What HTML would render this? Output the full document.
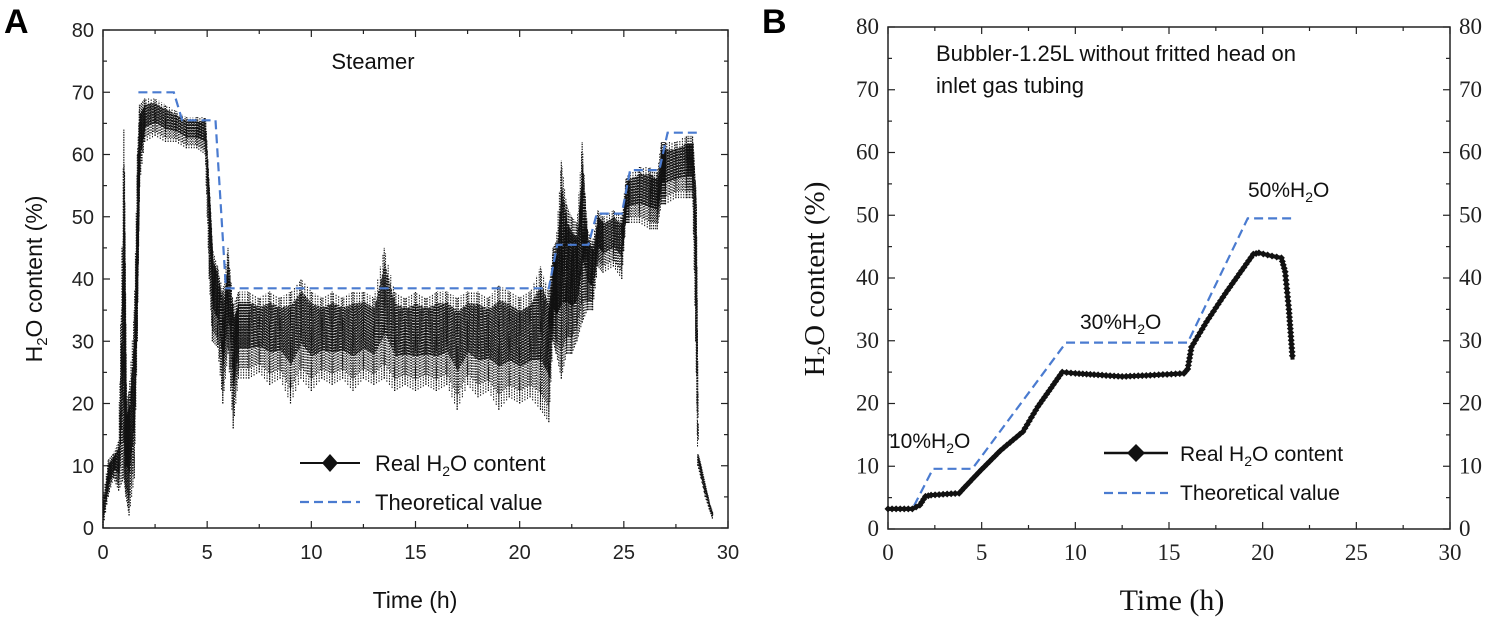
<!DOCTYPE html>
<html><head><meta charset="utf-8"><style>
html,body{margin:0;padding:0;background:#fff;}
svg{display:block;}
</style></head><body>
<svg id="chart" width="1500" height="617" viewBox="0 0 1500 617" xmlns="http://www.w3.org/2000/svg">
<text x="4" y="33" font-family="Liberation Sans, sans-serif" font-weight="bold" font-size="34">A</text>
<text x="762" y="33" font-family="Liberation Sans, sans-serif" font-weight="bold" font-size="34">B</text>
<g id="pa"></g>
<g id="pb"></g>
</svg>
<script>
// ---- Panel A data ----
const aTime = [0,0.25,0.5,0.75,1.0,1.1,1.25,1.5,1.65,1.75,2,2.5,3,3.5,4,4.5,4.9,5.1,5.25,5.5,5.75,6,6.25,6.5,7,7.5,8,8.5,9,9.5,10,10.5,11,11.5,12,12.5,13,13.5,14,14.5,15,15.5,16,16.5,17,17.5,18,18.5,19,19.5,20,20.5,21,21.4,21.6,21.75,22,22.25,22.5,22.75,23,23.25,23.5,23.75,24,24.5,24.9,25.1,25.25,25.75,26.25,26.6,26.8,27,27.5,28,28.3,28.45,28.55,28.7,28.9,29.1,29.25];
const aLow  = [0,5,8,6,8,5,2,8,30,55,62,63,62,62,61,61,60,40,30,29,20,28,16,24,24,25,23,24,20,24,22,24,23,24,22,24,23,24,22,23,22,23,22,23,19,23,21,22,19,21,20,21,19,17,30,28,24,28,28,30,33,35,35,42,41,42,40,49,49,49,48,48,52,52,53,53,53,30,10,8,5,3,1.5,0.3];
const aHigh = [5,11,12,14,64,20,22,35,60,68,69,69,68,67,66,66,66,55,45,42,38,45,36,38,38,37,38,37,38,40,38,37,38,37,38,38,37,45,38,37,38,37,38,38,37,38,38,37,39,38,37,38,42,38,45,46,59,52,50,49,62,48,46,51,50,51,50,56,57,58,58,57,62,62,62,63,63,55,12,10,7,4,2.5,1];
const aTheoT = [1.7,3.4,3.8,5.4,5.9,21.4,21.8,23.3,23.7,24.9,25.3,26.7,27.1,28.5];
const aTheoV = [70,70,65.5,65.5,38.5,38.5,45.5,45.5,50.5,50.5,57.5,57.5,63.5,63.5];
// ---- Panel B data ----
const bRealT = [0,1.3,1.7,2.0,2.3,3.8,4.2,5,6,7.2,8,9.3,10,11,12.5,14,15.8,16,16.2,17,18,19.5,19.8,20.5,21,21.2,21.4,21.6];
const bRealV = [3.2,3.2,3.8,5.2,5.4,5.7,7,9.5,12.5,15.5,19.5,25,24.8,24.6,24.3,24.5,24.8,25.5,29,33,37.5,43.8,44,43.5,43.2,41,35,27];
const bTheoT = [0,1.3,2.4,4.5,9.5,16,19.2,21.7];
const bTheoV = [3.2,3.2,9.6,9.6,29.7,29.7,49.5,49.5];
const xTicks = [0,5,10,15,20,25,30];
const yTicks = [0,10,20,30,40,50,60,70,80];

const NS='http://www.w3.org/2000/svg';
function mk(parent,tag,attrs,text){const e=document.createElementNS(NS,tag);for(const k in attrs)e.setAttribute(k,attrs[k]);if(text!==undefined)e.textContent=text;parent.appendChild(e);return e;}

function axes(g,L,R,T,B,font,fs,rightLabels){
  const sx=v=>L+(R-L)*v/30, sy=v=>B-(B-T)*v/80;
  const fr=mk(g,'rect',{x:L,y:T,width:R-L,height:B-T,fill:'none',stroke:'#222','stroke-width':1.5});
  
  
  for(let i=0;i<=12;i++){const v=i*2.5,x=sx(v),len=i%2===0?7:4;
    mk(g,'line',{x1:x,y1:B,x2:x,y2:B-len,stroke:'#222','stroke-width':1.2});
    mk(g,'line',{x1:x,y1:T,x2:x,y2:T+len,stroke:'#222','stroke-width':1.2});}
  for(let i=0;i<=16;i++){const v=i*5,y=sy(v),len=i%2===0?7:4;
    mk(g,'line',{x1:L,y1:y,x2:L+len,y2:y,stroke:'#222','stroke-width':1.2});
    mk(g,'line',{x1:R,y1:y,x2:R-len,y2:y,stroke:'#222','stroke-width':1.2});}
  xTicks.forEach(v=>{const t=mk(g,'text',{x:sx(v),y:B+31,'text-anchor':'middle','font-family':font,'font-size':fs,fill:'#222'},String(v));
    
    });
  yTicks.forEach(v=>{const t=mk(g,'text',{x:L-9,y:sy(v)+7,'text-anchor':'end','font-family':font,'font-size':fs,fill:'#222'},String(v));
    
    
    if(rightLabels){const t2=mk(g,'text',{x:R+9,y:sy(v)+7,'text-anchor':'start','font-family':font,'font-size':fs,fill:'#222'},String(v));
      
      }});
  return {sx,sy};
}
function path(pts){return pts.map((p,i)=>(i?'L':'M')+p[0].toFixed(1)+' '+p[1].toFixed(1)).join(' ');}

// ---- Panel A ----
(function(){
  const g=document.getElementById('pa');
  const sans='Liberation Sans, sans-serif';
  const {sx,sy}=axes(g,103,728,30,528,sans,20,false);
  const band=mk(g,'g',{});
  
  
  for(let i=0;i<aTime.length;i++){
    const x=sx(aTime[i]);
    const l=mk(band,'line',{x1:x,y1:sy(aLow[i]),x2:x,y2:sy(aHigh[i]),stroke:'#111','stroke-width':1.2,'stroke-dasharray':'1.5 1'});
    
    
    if(i<aTime.length-1){
      const n=8;
      for(let k=0;k<n;k++){const f=k/n,t=aTime[i]+(aTime[i+1]-aTime[i])*f;
        const lo=aLow[i]+(aLow[i+1]-aLow[i])*f, hi=aHigh[i]+(aHigh[i+1]-aHigh[i])*f;
        const lo2=lo+(hi-lo)*(k%2?0.12:0), hi2=hi-(hi-lo)*(k%2?0:0.15);
        mk(band,'line',{x1:sx(t),y1:sy(lo2),x2:sx(t),y2:sy(hi2),stroke:'#111','stroke-width':1,'stroke-dasharray':'1.5 1.2'});
        mk(band,'line',{x1:sx(t)+0.7,y1:sy(lo+(hi-lo)*0.35),x2:sx(t)+0.7,y2:sy(hi-(hi-lo)*0.12),stroke:'#111','stroke-width':1.1,'stroke-dasharray':'2 0.8'});}
    }
  }
  const th=mk(g,'path',{d:path(aTheoT.map((t,i)=>[sx(t),sy(aTheoV[i])])),fill:'none',stroke:'#4a7bd0','stroke-width':2.2,'stroke-dasharray':'9 5'});
  
  
  const s=mk(g,'text',{x:373,y:69,'text-anchor':'middle','font-family':sans,'font-size':22,fill:'#111'},'Steamer');
  
  
  mk(g,'line',{x1:300,y1:463,x2:360,y2:463,stroke:'#111','stroke-width':2});
  mk(g,'path',{d:'M330 454 L338 463 L330 472 L322 463 Z',fill:'#111'});
  const t1=mk(g,'text',{x:375,y:471,'font-family':sans,'font-size':22,fill:'#111'});
  t1.innerHTML='Real H<tspan font-size="14" dy="5">2</tspan><tspan dy="-5">O content</tspan>';
  
  
  mk(g,'line',{x1:300,y1:502,x2:360,y2:502,stroke:'#4a7bd0','stroke-width':2.2,'stroke-dasharray':'9 5'});
  const t2=mk(g,'text',{x:375,y:510,'font-family':sans,'font-size':22,fill:'#111'},'Theoretical value');
  
  
  const xt=mk(g,'text',{x:415,y:608,'text-anchor':'middle','font-family':sans,'font-size':23,fill:'#111'},'Time (h)');
  
  
  const yt=mk(g,'text',{transform:'translate(42,279) rotate(-90)','text-anchor':'middle','font-family':sans,'font-size':23,fill:'#111'});
  yt.innerHTML='H<tspan font-size="15" dy="5">2</tspan><tspan dy="-5">O content (%)</tspan>';
  
  
})();

// ---- Panel B ----
(function(){
  const g=document.getElementById('pb');
  const serif='Liberation Serif, serif', sans='Liberation Sans, sans-serif';
  const {sx,sy}=axes(g,888,1450,27,529,serif,23,true);
  const th=mk(g,'path',{d:path(bTheoT.map((t,i)=>[sx(t),sy(bTheoV[i])])),fill:'none',stroke:'#4a7bd0','stroke-width':2.2,'stroke-dasharray':'9 5'});
  
  
  const rl=mk(g,'path',{d:path(bRealT.map((t,i)=>[sx(t),sy(bRealV[i])])),fill:'none',stroke:'#111','stroke-width':4});
  
  
  for(let i=0;i<bRealT.length-1;i++){
    const n=Math.max(2,Math.round(Math.hypot(sx(bRealT[i+1])-sx(bRealT[i]),sy(bRealV[i+1])-sy(bRealV[i]))/4));
    for(let k=0;k<n;k++){const f=k/n,x=sx(bRealT[i]+(bRealT[i+1]-bRealT[i])*f),y=sy(bRealV[i]+(bRealV[i+1]-bRealV[i])*f);
      const m=mk(g,'path',{d:`M${x} ${y-3.5} L${x+3.5} ${y} L${x} ${y+3.5} L${x-3.5} ${y} Z`,fill:'#111'});
      
      }
  }
  const tl1=mk(g,'text',{x:936,y:61,'font-family':sans,'font-size':22,fill:'#111'},'Bubbler-1.25L without fritted head on');
  
  
  const tl2=mk(g,'text',{x:936,y:93,'font-family':sans,'font-size':22,fill:'#111'},'inlet gas tubing');
  
  
  [['10',889,448],['30',1080,329],['50',1248,197]].forEach(a=>{
    const t=mk(g,'text',{x:a[1],y:a[2],'font-family':sans,'font-size':21,fill:'#111'});
    t.innerHTML=a[0]+'%H<tspan font-size="14" dy="5">2</tspan><tspan dy="-5">O</tspan>';
    
    });
  mk(g,'line',{x1:1104,y1:453,x2:1168,y2:453,stroke:'#111','stroke-width':2.5});
  mk(g,'path',{d:'M1136 444 L1145 453 L1136 462 L1127 453 Z',fill:'#111'});
  const t1=mk(g,'text',{x:1180,y:461,'font-family':sans,'font-size':21,fill:'#111'});
  t1.innerHTML='Real H<tspan font-size="14" dy="5">2</tspan><tspan dy="-5">O content</tspan>';
  
  
  mk(g,'line',{x1:1104,y1:493,x2:1168,y2:493,stroke:'#4a7bd0','stroke-width':2.2,'stroke-dasharray':'9 5'});
  const t2=mk(g,'text',{x:1180,y:500,'font-family':sans,'font-size':21,fill:'#111'},'Theoretical value');
  
  
  const xt=mk(g,'text',{x:1172,y:610,'text-anchor':'middle','font-family':serif,'font-size':30,fill:'#111'},'Time (h)');
  
  
  const yt=mk(g,'text',{transform:'translate(824,279) rotate(-90)','text-anchor':'middle','font-family':serif,'font-size':29,fill:'#111'});
  yt.innerHTML='H<tspan font-size="19" dy="6">2</tspan><tspan dy="-6">O content (%)</tspan>';
  
  
})();
</script>
</body></html>
